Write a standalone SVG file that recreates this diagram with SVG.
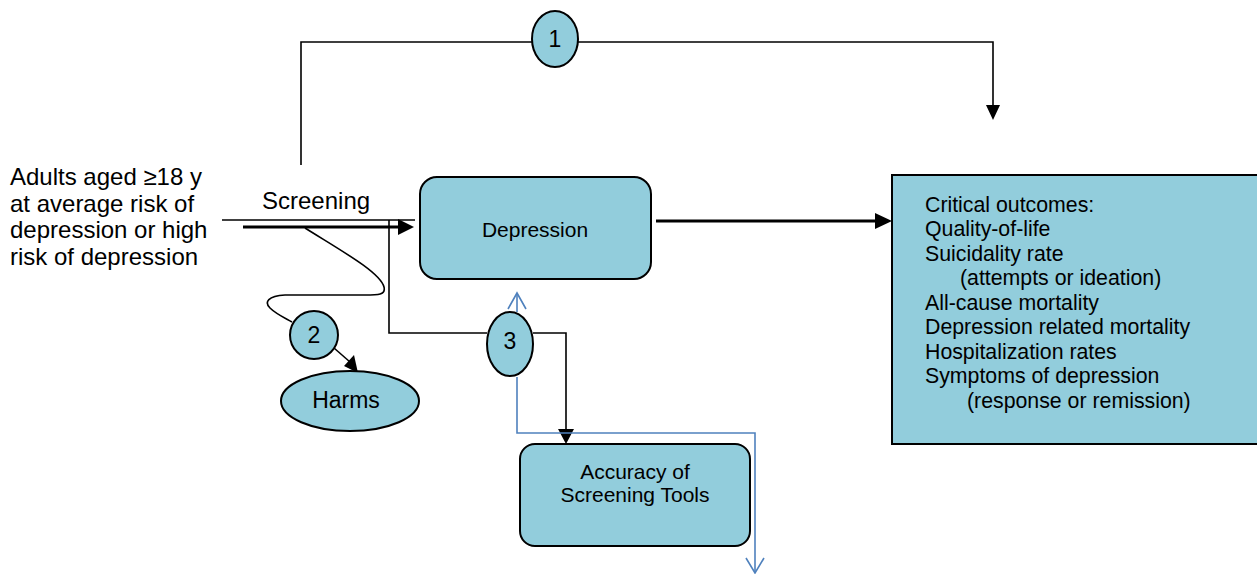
<svg xmlns="http://www.w3.org/2000/svg" width="1257" height="574" viewBox="0 0 1257 574">
<style>
  .node { fill: #92cddc; stroke: #000; stroke-width: 2; }
  .txt { font-family: "Liberation Sans", Arial, sans-serif; fill: #000; }
  .c21 { font-size: 21px; }
  .c23 { font-size: 23px; }
  .c24 { font-size: 24px; }
  .num { font-size: 23px; }
  .out { font-size: 21.3px; }
  .mid { text-anchor: middle; }
  .ln { fill: none; stroke: #000; stroke-width: 1.6; }
  .lnb { fill: none; stroke: #000; stroke-width: 3; }
  .blue { fill: none; stroke: #4f81bd; stroke-width: 1.6; }
  .ah { fill: #000; stroke: none; }
</style>
<rect width="1257" height="574" fill="#fff"/>

<g id="population">
  <text class="txt c24" x="10" y="185">Adults aged ≥18 y</text>
  <text class="txt c24" x="10" y="211.5">at average risk of</text>
  <text class="txt c24" x="10" y="238">depression or high</text>
  <text class="txt c24" x="10" y="264.5">risk of depression</text>
</g>

<g id="connectors">
  <!-- KQ1 overarching -->
  <polyline class="ln" points="301,165 301,42 993,42 993,106"/>
  <polygon class="ah" points="986,105 1000,105 993,120"/>
  <!-- screening lines -->
  <line class="ln" x1="222" y1="220" x2="415" y2="220"/>
  <line class="lnb" x1="243" y1="227" x2="400" y2="227"/>
  <polygon class="ah" points="398,219 398,235 414,227"/>
  <!-- S-curve to harms -->
  <path class="ln" d="M305,228 C340,250 380,272 384,287 C386,295 378,295 365,295 L285,295 C268,296 264,302 270,308 C276,314 285,318 292,322"/>
  <line class="ln" x1="334" y1="348" x2="350" y2="362"/>
  <polygon class="ah" points="344,366 354,355 358,373"/>
  <!-- KQ3 path -->
  <polyline class="ln" points="389,220 389,333 487,333"/>
  <polyline class="ln" points="533,333 566,333 566,430"/>
  <polygon class="ah" points="558,429 574,429 566,444"/>
  <!-- Depression to outcomes -->
  <line class="lnb" x1="656" y1="221" x2="878" y2="221"/>
  <polygon class="ah" points="875,213 875,229 892,221"/>
  <!-- blue lines -->
  <line class="blue" x1="517" y1="312" x2="517" y2="294"/>
  <polyline class="blue" points="508,309 517,293 526,309"/>
  <polyline class="blue" points="517,377 517,433 755,433 755,572"/>
  <polyline class="blue" points="746,558 755,573 764,558"/>
</g>

<g id="kq1">
  <ellipse class="node" cx="555" cy="39" rx="23" ry="28"/>
  <text class="txt num mid" x="555" y="47">1</text>
</g>

<g id="screening-label">
  <text class="txt c24" x="262" y="209">Screening</text>
</g>

<g id="depression">
  <rect class="node" x="420" y="177" width="231" height="102" rx="17"/>
  <text class="txt c21 mid" x="535" y="237">Depression</text>
</g>

<g id="kq2">
  <circle class="node" cx="314" cy="335" r="24"/>
  <text class="txt num mid" x="314" y="343">2</text>
</g>

<g id="harms">
  <ellipse class="node" cx="350" cy="401" rx="69" ry="30"/>
  <text class="txt c23 mid" x="346" y="408">Harms</text>
</g>

<g id="kq3">
  <ellipse class="node" cx="510" cy="344" rx="23" ry="32"/>
  <text class="txt num mid" x="510" y="349">3</text>
</g>

<g id="accuracy">
  <rect class="node" x="520" y="444" width="230" height="102" rx="15"/>
  <text class="txt c21 mid" x="635" y="479">Accuracy of</text>
  <text class="txt c21 mid" x="635" y="502">Screening Tools</text>
</g>

<g id="outcomes">
  <rect class="node" x="892" y="175" width="380" height="269"/>
  <text class="txt out" x="925" y="211.5">Critical outcomes:</text>
  <text class="txt out" x="925" y="236">Quality-of-life</text>
  <text class="txt out" x="925" y="260.5">Suicidality rate</text>
  <text class="txt out" x="960" y="285">(attempts or ideation)</text>
  <text class="txt out" x="925" y="309.5">All-cause mortality</text>
  <text class="txt out" x="925" y="334">Depression related mortality</text>
  <text class="txt out" x="925" y="358.5">Hospitalization rates</text>
  <text class="txt out" x="925" y="383">Symptoms of depression</text>
  <text class="txt out" x="967" y="407.5">(response or remission)</text>
</g>
</svg>
